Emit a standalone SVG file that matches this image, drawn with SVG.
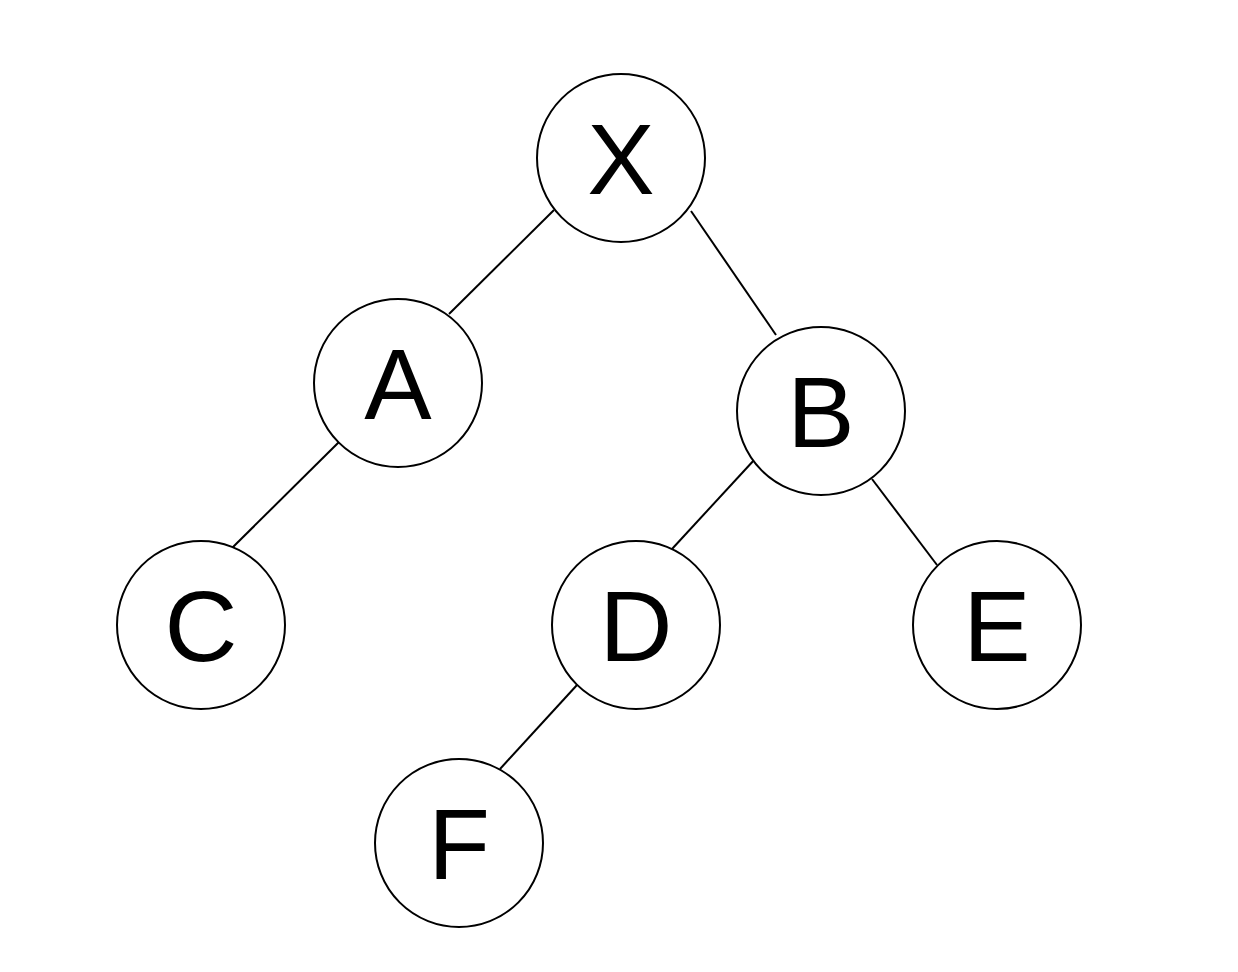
<svg xmlns="http://www.w3.org/2000/svg" width="1238" height="972" viewBox="0 0 1238 972">
<style>
.n{fill:#fff;stroke:#000;stroke-width:2}
.t{font-family:"Liberation Sans",Arial,sans-serif;font-size:101px;text-anchor:middle;fill:#000}
.e{stroke:#000;stroke-width:2;fill:none}
</style>
<rect width="1238" height="972" fill="#fff"/>
<g id="connectors">
<line class="e" x1="554" y1="210" x2="449" y2="314"/>
<line class="e" x1="691" y1="211" x2="776" y2="335"/>
<line class="e" x1="339" y1="442" x2="232" y2="548"/>
<line class="e" x1="755" y1="459" x2="672" y2="549"/>
<line class="e" x1="872" y1="479" x2="937" y2="565"/>
<line class="e" x1="577" y1="685" x2="500" y2="769"/>
</g>
<g id="X"><circle class="n" cx="621" cy="158" r="84"/><text class="t" x="621" y="194">X</text></g>
<g id="A"><circle class="n" cx="398" cy="383" r="84"/><text class="t" x="398" y="419">A</text></g>
<g id="B"><circle class="n" cx="821" cy="411" r="84"/><text class="t" x="821" y="447">B</text></g>
<g id="C"><circle class="n" cx="201" cy="625" r="84"/><text class="t" x="201" y="661">C</text></g>
<g id="D"><circle class="n" cx="636" cy="625" r="84"/><text class="t" x="636" y="661">D</text></g>
<g id="E"><circle class="n" cx="997" cy="625" r="84"/><text class="t" x="997" y="661">E</text></g>
<g id="F"><circle class="n" cx="459" cy="843" r="84"/><text class="t" x="459" y="879">F</text></g>
</svg>
